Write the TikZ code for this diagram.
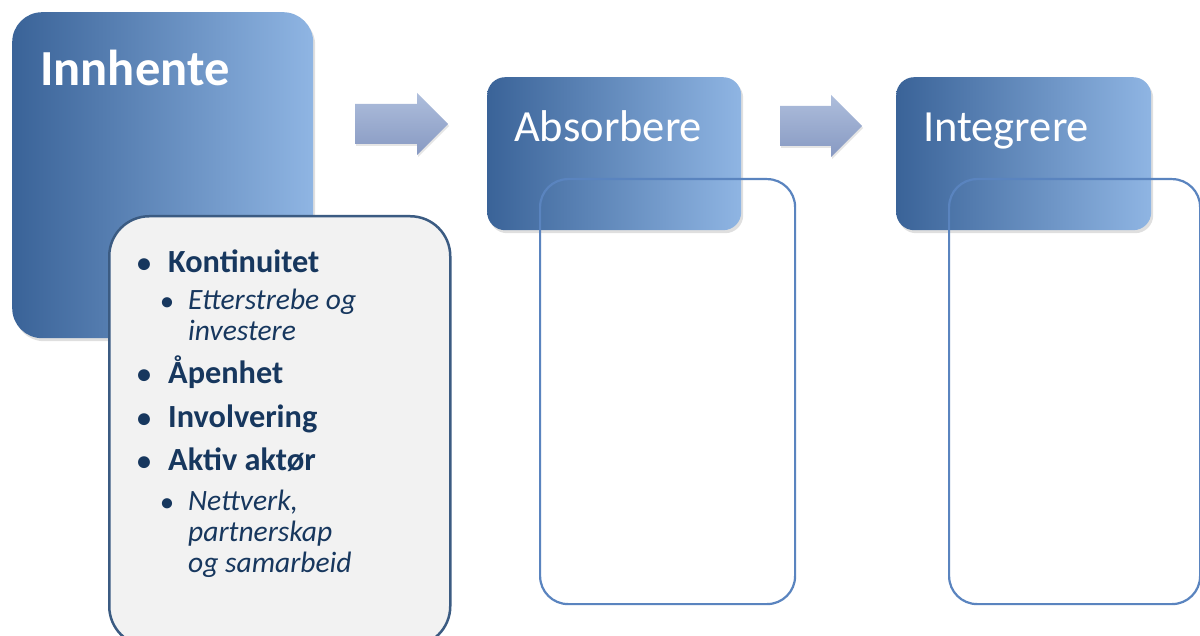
\documentclass[tikz,border=0pt]{standalone}
\usepackage{fontspec}
\setmainfont{Carlito}
\usetikzlibrary{shadows}
\definecolor{hdark}{HTML}{3A6398}
\definecolor{hlight}{HTML}{8FB5E3}
\definecolor{navy}{HTML}{17375E}
\definecolor{boxedge}{HTML}{3B5B82}
\definecolor{boxfill}{HTML}{F2F2F2}
\definecolor{innerc}{HTML}{5A84BF}
\definecolor{arrtop}{HTML}{AEBEDC}
\definecolor{arrbot}{HTML}{8799C2}
\tikzset{
  header/.style={draw=none, left color=hdark, right color=hlight, inner sep=0pt, anchor=north west,
    drop shadow={opacity=0.25, shadow xshift=2pt, shadow yshift=-3pt}},
  emptybox/.style={draw=innerc, line width=2.2pt, rounded corners=28pt, inner sep=0pt, anchor=north west},
  listbox/.style={draw=boxedge, line width=2.5pt, fill=boxfill, rounded corners=40pt, inner sep=0pt, anchor=north west},
  titletxt/.style={text=white, anchor=base west, inner sep=0pt, font=\fontsize{44.5}{48}\selectfont},
  main/.style={text=navy, anchor=base west, inner sep=0pt, font=\fontsize{32.3}{34}\selectfont\bfseries},
  sub/.style={text=navy, anchor=base west, inner sep=0pt, font=\fontsize{29.5}{30}\selectfont\itshape},
  bul/.style={text=navy, anchor=base, inner sep=0pt, font=\fontsize{28}{30}\selectfont\bfseries},
  sbul/.style={text=navy, anchor=base, inner sep=0pt, font=\fontsize{24}{26}\selectfont\bfseries},
  blockarrow/.style={top color=arrtop, bottom color=arrbot, draw=none,
    drop shadow={opacity=0.2, shadow xshift=1pt, shadow yshift=-2pt}}
}
\begin{document}
\begin{tikzpicture}[x=1pt,y=-1pt]
\useasboundingbox (0,0) rectangle (1200,636);
\fill[white] (0,0) rectangle (1200,636);
\begin{scope}
\clip (0,0) rectangle (1200,636);
% Innhente
\node[header, rounded corners=30pt, minimum width=301pt, minimum height=326pt] (h1) at (12,12) {};
\node[text=white, anchor=base west, inner sep=0pt, font=\fontsize{50.5}{52}\selectfont\bfseries] (t1) at (40,86) {Innhente};
% list box
\node[listbox, minimum width=341pt, minimum height=430pt] (lb) at (108,215) {};
\node[bul] (b1) at (144,273) {•};
\node[main] (l1) at (168,273) {Kontinuitet};
\node[sbul] (b2) at (167,310) {•};
\node[sub] (l2) at (188,310) {Etterstrebe og};
\node[sub] (l3) at (188,341) {investere};
\node[bul] (b3) at (144,384) {•};
\node[main] (l4) at (168,384) {Åpenhet};
\node[bul] (b4) at (144,428) {•};
\node[main] (l5) at (168,428) {Involvering};
\node[bul] (b5) at (144,470) {•};
\node[main] (l6) at (168,470) {Aktiv aktør};
\node[sbul] (b6) at (167,510) {•};
\node[sub] (l7) at (188,510) {Nettverk,};
\node[sub] (l8) at (188,541) {partnerskap};
\node[sub] (l9) at (188,572) {og samarbeid};
% arrows
\path[blockarrow] (355,104) -- (417,104) -- (417,93) -- (448,124) -- (417,155) -- (417,144) -- (355,144) -- cycle;
\path[blockarrow] (780,106) -- (831,106) -- (831,95) -- (862,126) -- (831,157) -- (831,146) -- (780,146) -- cycle;
% Absorbere
\node[header, rounded corners=18pt, minimum width=254pt, minimum height=153pt] (h2) at (487,77) {};
\node[titletxt] (t2) at (514,142) {Absorbere};
\node[emptybox, minimum width=255pt, minimum height=425pt] (e2) at (539,178) {};
% Integrere
\node[header, rounded corners=18pt, minimum width=255pt, minimum height=153pt] (h3) at (896,77) {};
\node[titletxt] (t3) at (923,142) {Integrere};
\node[emptybox, minimum width=251pt, minimum height=425pt] (e3) at (948,178) {};
\end{scope}
\end{tikzpicture}
\end{document}
